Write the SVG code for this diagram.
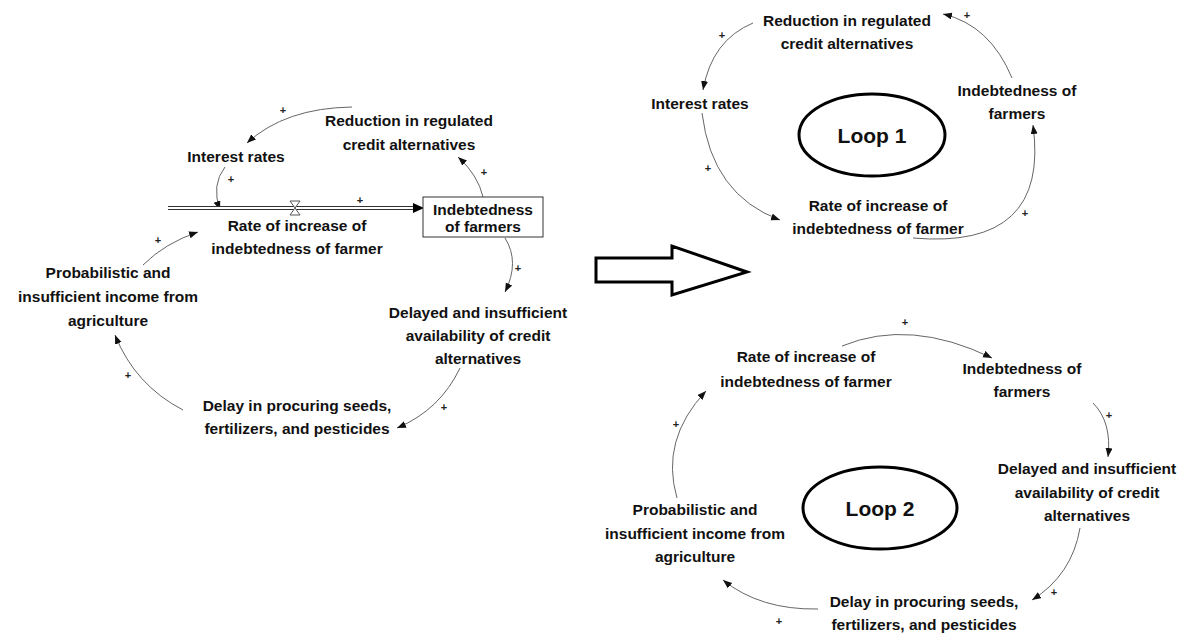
<svg xmlns="http://www.w3.org/2000/svg" width="1191" height="635" viewBox="0 0 1191 635">
<defs>
<marker id="ah" markerUnits="userSpaceOnUse" markerWidth="10" markerHeight="8" refX="9" refY="3.5" orient="auto">
<path d="M0,0 L9,3.5 L0,7 z" fill="#111"/>
</marker>
<style>
.t{font-family:"Liberation Sans",Arial,sans-serif;font-weight:bold;font-size:15.5px;fill:#111;text-anchor:middle}
.lp{font-family:"Liberation Sans",Arial,sans-serif;font-weight:bold;font-size:21px;fill:#111;text-anchor:middle}
.p{font-family:"Liberation Sans",Arial,sans-serif;font-weight:bold;font-size:11px;fill:#222;text-anchor:middle}
.c{fill:none;stroke:#666;stroke-width:1;marker-end:url(#ah)}
.loop{fill:none;stroke:#000;stroke-width:3}
</style>
</defs>
<rect width="1191" height="635" fill="#fff"/>

<g id="connectors">
<!-- left -->
<path class="c" d="M352,107 Q285,108 247,143"/>
<path class="c" d="M225,167 Q211,185 220,210"/>
<path class="c" d="M483,197 Q478,175 458,157"/>
<path class="c" d="M505,238 Q520,262 505,292"/>
<path class="c" d="M460,368 Q440,410 397,428"/>
<path class="c" d="M183,410 Q135,385 115,335"/>
<path class="c" d="M143,265 Q165,243 198,232"/>
<!-- loop 1 -->
<path class="c" d="M1012,78 Q990,25 943,14"/>
<path class="c" d="M753,23 Q712,40 703,90"/>
<path class="c" d="M702,113 Q712,195 780,220"/>
<path class="c" d="M913,238 Q1050,250 1033,125"/>
<!-- loop 2 -->
<path class="c" d="M842,346 Q910,318 992,358"/>
<path class="c" d="M1093,403 Q1112,422 1108,457"/>
<path class="c" d="M1080,528 Q1072,575 1032,600"/>
<path class="c" d="M818,609 Q760,610 723,580"/>
<path class="c" d="M677,498 Q660,440 706,391"/>
<!-- flow -->
<line x1="168" y1="208" x2="414" y2="208" stroke="#333" stroke-width="4"/>
<line x1="168" y1="208" x2="414" y2="208" stroke="#fff" stroke-width="2"/>
<path d="M413,203 L424,208 L413,213 z" fill="#000"/>
<path d="M290,201 L300,201 L290,215 L300,215 z" fill="#fff" stroke="#555" stroke-width="1"/>
</g>

<g id="plus-signs">
<text class="p" x="283" y="114">+</text>
<text class="p" x="231" y="183">+</text>
<text class="p" x="360" y="204">+</text>
<text class="p" x="484" y="176">+</text>
<text class="p" x="518" y="272">+</text>
<text class="p" x="444" y="411">+</text>
<text class="p" x="128" y="379">+</text>
<text class="p" x="158" y="244">+</text>
<text class="p" x="967" y="19">+</text>
<text class="p" x="722" y="39">+</text>
<text class="p" x="708" y="172">+</text>
<text class="p" x="1025" y="217">+</text>
<text class="p" x="905" y="326">+</text>
<text class="p" x="1109" y="419">+</text>
<text class="p" x="1054" y="596">+</text>
<text class="p" x="779" y="625">+</text>
<text class="p" x="676" y="428">+</text>
</g>

<g id="left-reduction"><text class="t" x="409" y="126">Reduction in regulated</text><text class="t" x="409" y="150">credit alternatives</text></g>
<g id="left-interest"><text class="t" x="236" y="162">Interest rates</text></g>
<g id="left-indebtedness"><rect x="423" y="197" width="120" height="40" fill="#fff" stroke="#333" stroke-width="1"/><text class="t" x="483" y="215">Indebtedness</text><text class="t" x="483" y="232">of farmers</text></g>
<g id="left-rate"><text class="t" x="297" y="231">Rate of increase of</text><text class="t" x="297" y="254">indebtedness of farmer</text></g>
<g id="left-probabilistic"><text class="t" x="108" y="278">Probabilistic and</text><text class="t" x="108" y="302">insufficient income from</text><text class="t" x="108" y="326">agriculture</text></g>
<g id="left-delayed"><text class="t" x="478" y="318">Delayed and insufficient</text><text class="t" x="478" y="341">availability of credit</text><text class="t" x="478" y="364">alternatives</text></g>
<g id="left-delay"><text class="t" x="297" y="411">Delay in procuring seeds,</text><text class="t" x="297" y="434">fertilizers, and pesticides</text></g>

<g id="big-arrow"><path d="M596,258 L672,258 L672,246 L747,272 L672,295 L672,282 L596,282 z" fill="#fff" stroke="#000" stroke-width="3" stroke-linejoin="miter"/></g>

<g id="l1-reduction"><text class="t" x="847" y="26">Reduction in regulated</text><text class="t" x="847" y="49">credit alternatives</text></g>
<g id="l1-interest"><text class="t" x="700" y="109">Interest rates</text></g>
<g id="l1-indebtedness"><text class="t" x="1017" y="96">Indebtedness of</text><text class="t" x="1017" y="119">farmers</text></g>
<g id="l1-loop"><ellipse class="loop" cx="872" cy="135" rx="73" ry="41"/><text class="lp" x="872" y="143">Loop 1</text></g>
<g id="l1-rate"><text class="t" x="878" y="211">Rate of increase of</text><text class="t" x="878" y="234">indebtedness of farmer</text></g>

<g id="l2-rate"><text class="t" x="806" y="362">Rate of increase of</text><text class="t" x="806" y="387">indebtedness of farmer</text></g>
<g id="l2-indebtedness"><text class="t" x="1022" y="374">Indebtedness of</text><text class="t" x="1022" y="397">farmers</text></g>
<g id="l2-delayed"><text class="t" x="1087" y="474">Delayed and insufficient</text><text class="t" x="1087" y="498">availability of credit</text><text class="t" x="1087" y="521">alternatives</text></g>
<g id="l2-loop"><ellipse class="loop" cx="880" cy="508" rx="77" ry="41"/><text class="lp" x="880" y="516">Loop 2</text></g>
<g id="l2-probabilistic"><text class="t" x="695" y="515">Probabilistic and</text><text class="t" x="695" y="539">insufficient income from</text><text class="t" x="695" y="562">agriculture</text></g>
<g id="l2-delay"><text class="t" x="924" y="607">Delay in procuring seeds,</text><text class="t" x="924" y="630">fertilizers, and pesticides</text></g>
</svg>
